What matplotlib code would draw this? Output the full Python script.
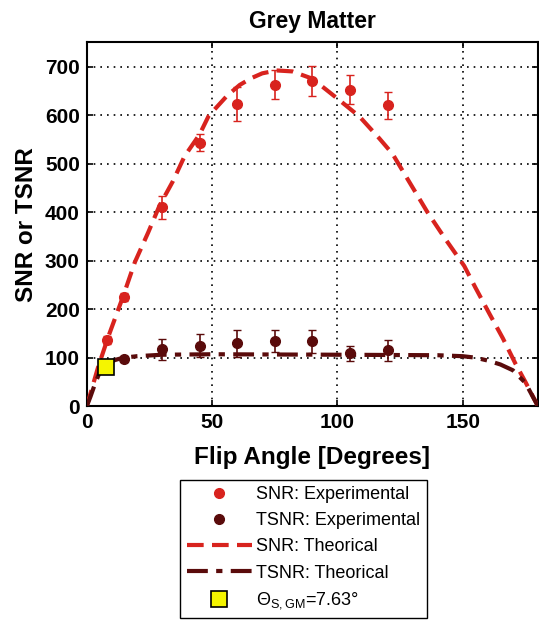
import matplotlib.pyplot as plt
from matplotlib.lines import Line2D

plt.rcParams['font.family'] = ['Liberation Sans', 'DejaVu Sans']
plt.rcParams['mathtext.fontset'] = 'custom'
plt.rcParams['mathtext.rm'] = 'Liberation Sans'

# experimental points (flip angle in degrees)
exp_angles = [8, 15, 30, 45, 60, 75, 90, 105, 120]
snr_exp = [137, 225, 410, 543, 623, 663, 671, 652, 620]
snr_err = [8, 8, 24, 18, 35, 29, 31, 30, 28]
tsnr_angles = [15, 30, 45, 60, 75, 90, 105, 120]
tsnr_exp = [97, 117, 125, 130, 134, 134, 109, 115]
tsnr_err = [6, 21, 24, 28, 22, 24, 16, 22]

# theoretical curves
snr_th_angles = [0, 4.5, 8.5, 14.4, 19.2, 24.5, 29, 34.4, 39, 45, 48.6, 56, 61,
                 65.6, 70, 75.7, 82, 90, 100, 108.8, 116.7, 122, 128, 135.9,
                 143, 150.6, 155, 160.6, 166, 171, 175, 180]
snr_th = [0, 80, 142, 225, 297, 358, 413, 464, 515, 560, 598, 640, 662,
          676, 686, 692, 690, 675, 634, 597, 552, 520, 468, 400,
          345, 289, 245, 191, 140, 88, 50, 0]
tsnr_th_angles = [0, 1.5, 3, 5, 7.5, 10, 12.5, 15, 20, 30, 50, 100, 140, 150,
                  155, 160, 165, 170, 175, 180]
tsnr_th = [0, 20, 42, 68, 85, 93, 97, 100, 103, 106, 107, 106, 105, 103,
           100, 94, 86, 74, 48, 0]

theta_opt = 7.63
theta_val = 80

red = '#d8231e'
dark = '#5a0b0b'
snr_dash = (4, 2)
tsnr_dash = (5, 2, 1.5, 2)

fig = plt.figure(figsize=(5.39, 6.22), dpi=100)
ax = fig.add_axes([0.161, 0.347, 0.837, 0.585])

ax.errorbar(exp_angles, snr_exp, yerr=snr_err, fmt='o', color=red, ms=7,
            capsize=3, elinewidth=1.2, zorder=4)
ax.errorbar(tsnr_angles, tsnr_exp, yerr=tsnr_err, fmt='o', color=dark, ms=7,
            capsize=3, elinewidth=1.2, zorder=4)
ax.plot(snr_th_angles, snr_th, '--', color=red, lw=3, dashes=snr_dash, zorder=3)
ax.plot(tsnr_th_angles, tsnr_th, '-.', color=dark, lw=3, dashes=tsnr_dash,
        zorder=3)
ax.plot([theta_opt], [theta_val], 's', ms=11, mfc='#f5f500', mec='k',
        mew=1.2, zorder=5)

ax.set_xlim(0, 180)
ax.set_ylim(0, 750)
ax.set_xticks([0, 50, 100, 150])
ax.set_yticks(range(0, 800, 100))
ax.grid(True, color='k', linestyle=(0, (1, 3)), linewidth=1.2)
ax.tick_params(direction='in', top=True, right=True, length=4, width=1.2,
               labelsize=15, pad=5)
for lab in ax.get_xticklabels() + ax.get_yticklabels():
    lab.set_fontweight('bold')
for s in ax.spines.values():
    s.set_linewidth(1.5)

ax.set_title('Grey Matter', fontsize=16.5, fontweight='bold', pad=10)
ax.set_xlabel('Flip Angle [Degrees]', fontsize=17.5, fontweight='bold',
              labelpad=10)
ax.set_ylabel('SNR or TSNR', fontsize=17.5, fontweight='bold', labelpad=5)

handles = [
    Line2D([], [], ls='none', marker='o', ms=7, color=red),
    Line2D([], [], ls='none', marker='o', ms=7, color=dark),
    Line2D([], [], color=red, lw=3, dashes=snr_dash),
    Line2D([], [], color=dark, lw=3, dashes=tsnr_dash),
    Line2D([], [], ls='none', marker='s', ms=11, mfc='#f5f500', mec='k', mew=1.2),
]
labels = ['SNR: Experimental', 'TSNR: Experimental', 'SNR: Theorical',
          'TSNR: Theorical', r'$\Theta_{\mathrm{S,GM}}$=7.63°']
fig.legend(handles, labels, loc='upper center', bbox_to_anchor=(0.563, 0.229),
           fontsize=13, fancybox=False, edgecolor='k', framealpha=1,
           handlelength=3.6, handletextpad=0.25, borderpad=0.38,
           labelspacing=0.5, borderaxespad=0)

fig.savefig('out.png', dpi=100)
